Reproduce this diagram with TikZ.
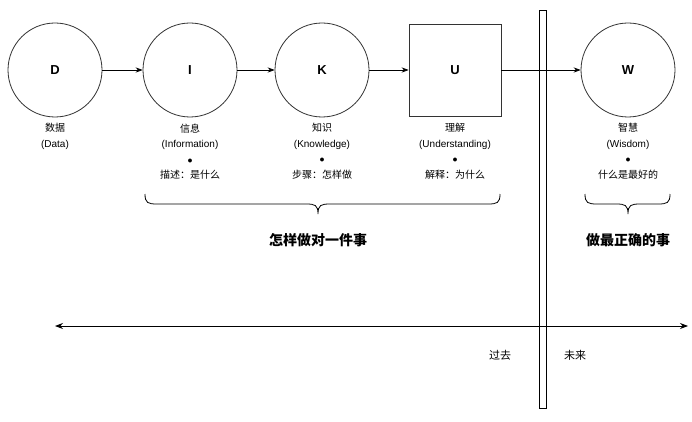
\documentclass[tikz,border=0pt]{standalone}
\usepackage{fontspec}
\setmainfont{Liberation Sans}
\newfontfamily\cjk{Noto Sans CJK SC}
\usetikzlibrary{arrows.meta}
\tikzset{
  circ/.style={draw,circle,minimum size=94pt,inner sep=0pt,font=\bfseries\fontsize{13}{15}\selectfont, thick, draw=black!80},
  sq/.style={draw,minimum size=92pt,inner sep=0pt,font=\bfseries\fontsize{13}{15}\selectfont, thick, draw=black!80},
  lab/.style={align=center,anchor=north,font=\fontsize{10}{15.5}\selectfont},
  arr/.style={-{Stealth[length=7pt]},thick},
  br/.style={thick},
  big/.style={font=\cjk\bfseries\fontsize{14}{16}\selectfont}
}
\begin{document}
\begin{tikzpicture}[x=1pt,y=-1pt]
\useasboundingbox (0,0) rectangle (692,422);
\node[circ] (D) at (55,70) {D};
\node[circ] (I) at (190,70) {I};
\node[circ] (K) at (322,70) {K};
\node[sq] (U) at (455,70) {U};
\node[circ] (W) at (628,70) {W};
\node[draw,thick,fill=white,minimum width=7pt,minimum height=398pt,inner sep=0pt] (bar) at (543,209) {};
\draw[arr] (D) -- (I);
\draw[arr] (I) -- (K);
\draw[arr] (K) -- (U);
\draw[arr] (U) -- (W);
\node[lab] (lD) at (55,120) {{\cjk 数据}\\(Data)};
\node[lab] (lI) at (190,120) {{\cjk 信息}\\(Information)\\$\bullet$\\{\cjk 描述：是什么}};
\node[lab] (lK) at (322,120) {{\cjk 知识}\\(Knowledge)\\$\bullet$\\{\cjk 步骤：怎样做}};
\node[lab] (lU) at (455,120) {{\cjk 理解}\\(Understanding)\\$\bullet$\\{\cjk 解释：为什么}};
\node[lab] (lW) at (628,120) {{\cjk 智慧}\\(Wisdom)\\$\bullet$\\{\cjk 什么是最好的}};
\draw[br] (145,194) .. controls (145,203) and (148,204) .. (157,204) -- (306,204)
  .. controls (315,204) and (318,205) .. (318,214) .. controls (318,205) and (321,204) .. (330,204)
  -- (488,204) .. controls (497,204) and (500,203) .. (500,194);
\draw[br] (585,194) .. controls (585,203) and (588,204) .. (597,204) -- (616,204)
  .. controls (625,204) and (628,205) .. (628,214) .. controls (628,205) and (631,204) .. (640,204)
  -- (658,204) .. controls (667,204) and (670,203) .. (670,194);
\node[big] (t1) at (318,240) {怎样做对一件事};
\node[big] (t2) at (628,240) {做最正确的事};
\coordinate (h1) at (55,326);
\coordinate (h2) at (688,326);
\draw[{Stealth[length=8pt]}-{Stealth[length=8pt]},thick] (h1) -- (h2);
\node[font=\cjk\fontsize{11}{13}\selectfont] (past) at (500,355) {过去};
\node[font=\cjk\fontsize{11}{13}\selectfont] (fut) at (575,355) {未来};
\end{tikzpicture}
\end{document}
